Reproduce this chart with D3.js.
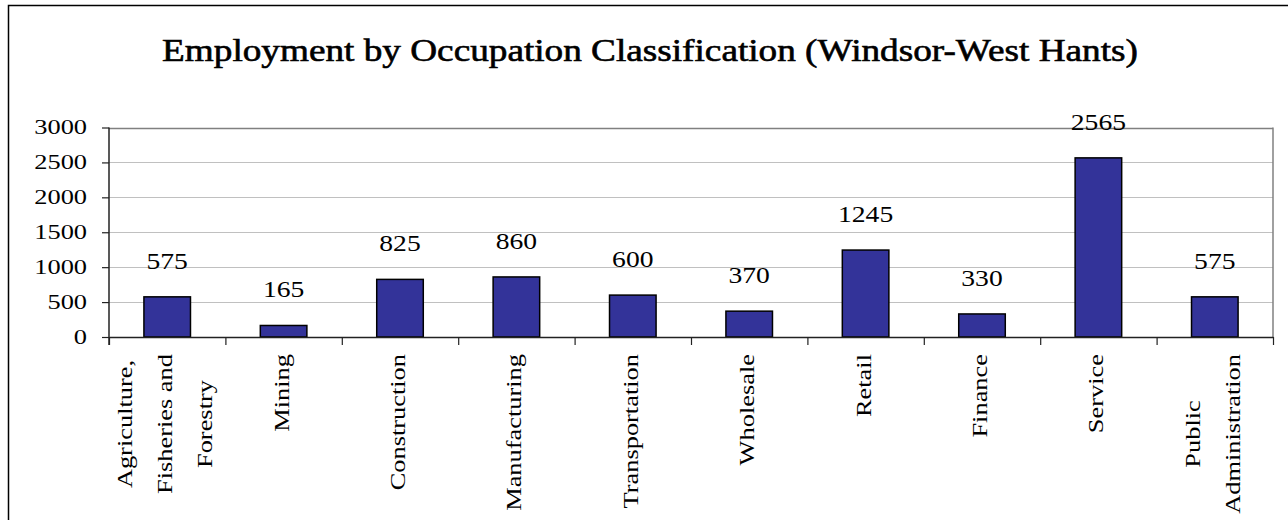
<!DOCTYPE html>
<html>
<head>
<meta charset="utf-8">
<script src="https://cdn.jsdelivr.net/npm/d3@7"></script>
<style>
  html, body { margin: 0; padding: 0; background: #fff; }
  svg { display: block; }
  text { font-family: "Liberation Serif", "Times New Roman", serif; fill: #000; }
</style>
</head>
<body>
<svg id="chart" width="1288" height="520"></svg>
<script>
// data
var categories = ["Agriculture, Fisheries and Forestry", "Mining", "Construction", "Manufacturing",
  "Transportation", "Wholesale", "Retail", "Finance", "Service", "Public Administration"];
var categoryLines = [["Agriculture,", "Fisheries and", "Forestry"], ["Mining"], ["Construction"], ["Manufacturing"],
  ["Transportation"], ["Wholesale"], ["Retail"], ["Finance"], ["Service"], ["Public", "Administration"]];
var employment = [575, 165, 825, 860, 600, 370, 1245, 330, 2565, 575];
var yTicks = [0, 500, 1000, 1500, 2000, 2500, 3000];
var chartTitle = "Employment by Occupation Classification (Windsor-West Hants)";

// layout
var plot = {left: 109, right: 1273, top: 127.5, bottom: 337};
var stretch = 1.2;   // text looks wider than plain Times

var svg = d3.select("#chart");

// outer frame
svg.append("rect")
  .attr("x", 8.5).attr("y", 5.5)
  .attr("width", 1282).attr("height", 540)
  .attr("fill", "#fff").attr("stroke", "#000").attr("stroke-width", 1.5);

// title, scaled to the reference width
var title = svg.append("text")
  .attr("font-size", 31)
  .attr("text-anchor", "middle")
  .attr("stroke", "#000").attr("stroke-width", 0.6)
  .text(chartTitle);
var tlen = title.node().getComputedTextLength();
title.attr("transform", "translate(650,60.5) scale(" + (976 / tlen) + ",1)");

// scales
var x = d3.scaleBand().domain(categories)
  .range([plot.left, plot.right])
  .paddingInner(0.6).paddingOuter(0.3);
var xEdge = d3.scaleLinear().domain([0, categories.length]).range([plot.left, plot.right]);
var y = d3.scaleLinear().domain([0, 3000]).range([plot.bottom, plot.top]);

// grid
svg.append("g").selectAll("line").data(yTicks.filter(function(d){ return d > 0; }))
  .join("line")
  .attr("x1", plot.left).attr("x2", plot.right)
  .attr("y1", function(d){ return Math.round(y(d)) + 0.5; })
  .attr("y2", function(d){ return Math.round(y(d)) + 0.5; })
  .attr("stroke", function(d){ return d == 3000 ? "#808080" : "#c0c0c0"; })
  .attr("stroke-width", function(d){ return d == 3000 ? 1.5 : 1; });
// right border of plot
svg.append("line")
  .attr("x1", plot.right).attr("x2", plot.right)
  .attr("y1", plot.top).attr("y2", plot.bottom)
  .attr("stroke", "#808080").attr("stroke-width", 1.5);

// bars
svg.append("g").selectAll("rect").data(employment)
  .join("rect")
  .attr("x", function(d, i){ return x(categories[i]); })
  .attr("y", function(d){ return y(d); })
  .attr("width", x.bandwidth())
  .attr("height", function(d){ return y(0) - y(d); })
  .attr("fill", "#333399").attr("stroke", "#000").attr("stroke-width", 1.5);

// value labels
svg.append("g").selectAll("text").data(employment)
  .join("text")
  .attr("font-size", 23)
  .attr("text-anchor", "middle")
  .attr("transform", function(d, i){
    return "translate(" + (x(categories[i]) + x.bandwidth() / 2) + "," + (y(d) - 28) + ") scale(" + stretch + ",1)";
  })
  .text(function(d){ return d; });

// y axis
var yAxis = svg.append("g")
  .attr("transform", "translate(" + plot.left + ",0)")
  .call(d3.axisLeft(y).tickValues(yTicks).tickFormat(d3.format("d"))
    .tickSize(7).tickSizeOuter(0).tickPadding(12));
yAxis.select(".domain").attr("stroke", "#222").attr("stroke-width", 1.5)
  .attr("d", "M0," + (plot.top) + "V" + (plot.bottom + 8));
yAxis.selectAll(".tick line").attr("stroke", "#222").attr("stroke-width", 1.2);
yAxis.selectAll(".tick text")
  .attr("font-size", 22).attr("fill", "#000")
  .attr("x", -22 / stretch).attr("dy", "0.28em")
  .attr("transform", "scale(" + stretch + ",1)");

// x axis (category boundaries)
var xAxis = svg.append("g")
  .attr("transform", "translate(0," + plot.bottom + ")")
  .call(d3.axisBottom(xEdge).tickValues(d3.range(0, categories.length + 1))
    .tickSize(8).tickSizeOuter(0).tickFormat(""));
xAxis.select(".domain").attr("stroke", "#222").attr("stroke-width", 1.5);
xAxis.selectAll(".tick line").attr("stroke", "#222").attr("stroke-width", 1.2);

// category labels, rotated, block aligned to the top
var labelTop = 354, lineGap = 40;
categoryLines.forEach(function(lines, i){
  var cx = x(categories[i]) + x.bandwidth() / 2;
  var g = svg.append("g");
  var nodes = lines.map(function(s){
    return g.append("text").attr("font-size", 22).attr("text-anchor", "middle").attr("dy", 5).text(s);
  });
  var blockLen = d3.max(nodes, function(t){ return t.node().getComputedTextLength() * stretch; });
  var cy = labelTop + blockLen / 2;
  nodes.forEach(function(t, j){
    var lx = cx + (j - (lines.length - 1) / 2) * lineGap;
    t.attr("transform", "translate(" + lx + "," + cy + ") rotate(-90) scale(" + stretch + ",1)");
  });
});
</script>
</body>
</html>
